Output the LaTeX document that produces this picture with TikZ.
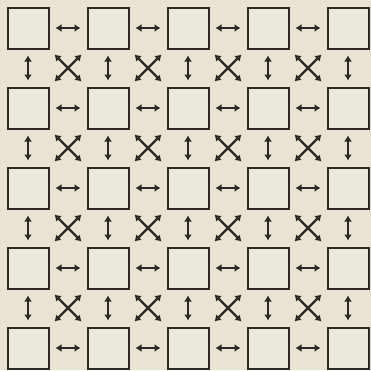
\documentclass[tikz,border=0pt]{standalone}
\usetikzlibrary{arrows.meta}
\definecolor{paper}{RGB}{232,227,211}
\definecolor{boxfill}{RGB}{236,232,219}
\definecolor{ink}{RGB}{45,41,37}
\begin{document}
\begin{tikzpicture}[x=1pt,y=-1pt,
  sq/.style={draw=ink,fill=boxfill,line width=2pt,minimum size=41pt,inner sep=0pt,outer sep=0pt},
  link/.style={draw=ink,line width=2.3pt,{Latex[length=6pt,width=8pt]}-{Latex[length=6pt,width=8pt]}},
  hv/.style={link,shorten <=7pt,shorten >=7pt},
  dg/.style={link,shorten <=8.5pt,shorten >=8.5pt}]
\fill[paper] (0,0) rectangle (371,370);
\useasboundingbox (0,0) rectangle (371,370);
\foreach \i in {1,...,5}{
  \foreach \j in {1,...,5}{
    \node[sq] (s-\i-\j) at ({28+80*(\j-1)},{28+80*(\i-1)}) {};
  }
}
\foreach \i in {1,...,5}{
  \foreach \j [evaluate=\j as \k using int(\j+1)] in {1,...,4}{
    \draw[hv] (s-\i-\j.east) -- (s-\i-\k.west);
    \draw[hv] (s-\j-\i.south) -- (s-\k-\i.north);
  }
}
\foreach \i [evaluate=\i as \ii using int(\i+1)] in {1,...,4}{
  \foreach \j [evaluate=\j as \jj using int(\j+1)] in {1,...,4}{
    \draw[dg] (s-\i-\j.south east) -- (s-\ii-\jj.north west);
    \draw[dg] (s-\i-\jj.south west) -- (s-\ii-\j.north east);
  }
}
\end{tikzpicture}
\end{document}
